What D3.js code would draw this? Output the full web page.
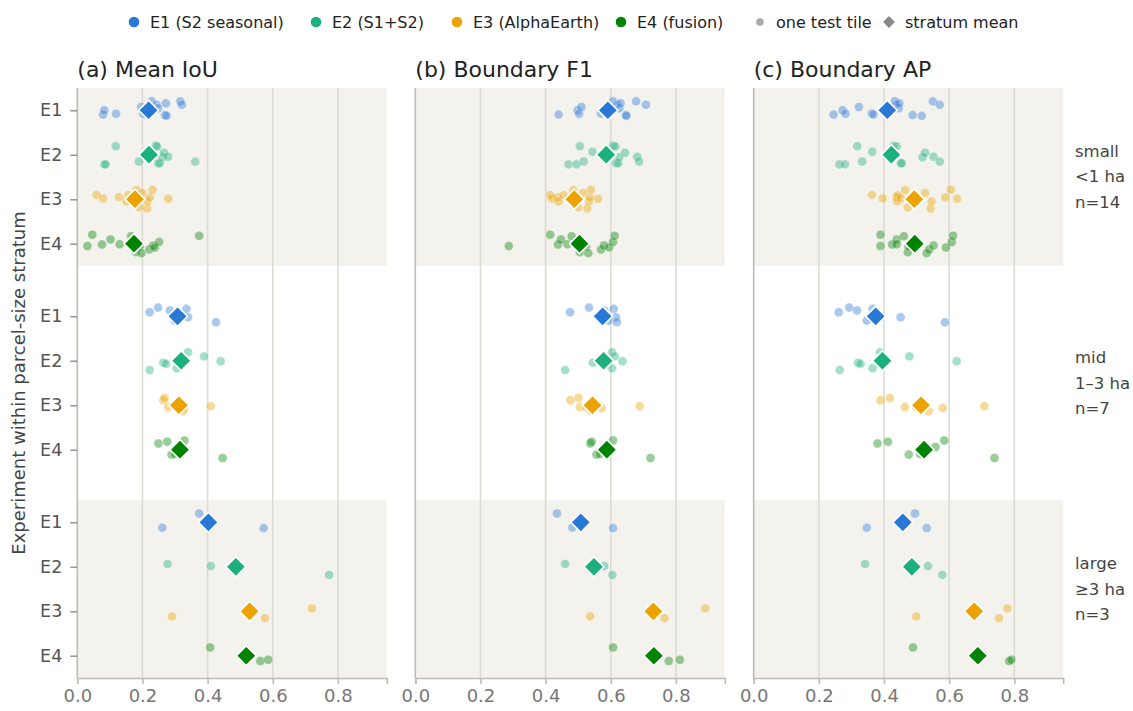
<!DOCTYPE html>
<html>
<head>
<meta charset="utf-8">
<script src="https://cdn.jsdelivr.net/npm/d3@7"></script>
<style>
  html, body { margin: 0; padding: 0; background: #ffffff; }
  svg { display: block; font-family: "DejaVu Sans", sans-serif; }
</style>
</head>
<body>
<svg id="chart" width="1133" height="711"></svg>
<script>
// Experiments, strata and panels
const experiments = ["E1", "E2", "E3", "E4"];
const experimentLabels = ["E1 (S2 seasonal)", "E2 (S1+S2)", "E3 (AlphaEarth)", "E4 (fusion)"];
const experimentColors = ["#2a78d6", "#1cb07f", "#eca200", "#008300"];
const strata = ["small", "mid", "large"];
const strataLabels = [["small", "<1 ha", "n=14"], ["mid", "1\u20133 ha", "n=7"], ["large", "\u22653 ha", "n=3"]];
const panelTitles = ["(a) Mean IoU", "(b) Boundary F1", "(c) Boundary AP"];
const xTicks = [0, 0.2, 0.4, 0.6, 0.8];

// Per-tile scores, one row per experiment (E1..E4)
const iouSmall = [
  [0.079, 0.083, 0.119, 0.196, 0.202, 0.213, 0.228, 0.243, 0.248, 0.272, 0.269, 0.274, 0.316, 0.321],
  [0.083, 0.087, 0.118, 0.189, 0.215, 0.232, 0.241, 0.245, 0.248, 0.253, 0.262, 0.266, 0.279, 0.362],
  [0.059, 0.079, 0.128, 0.151, 0.156, 0.170, 0.182, 0.190, 0.200, 0.215, 0.215, 0.223, 0.231, 0.279],
  [0.031, 0.046, 0.076, 0.102, 0.130, 0.165, 0.180, 0.192, 0.197, 0.221, 0.233, 0.238, 0.251, 0.374]
];
const iouMid = [
  [0.222, 0.248, 0.284, 0.299, 0.335, 0.340, 0.426],
  [0.222, 0.264, 0.273, 0.305, 0.340, 0.389, 0.440],
  [0.264, 0.268, 0.279, 0.310, 0.325, 0.327, 0.410],
  [0.249, 0.276, 0.289, 0.300, 0.316, 0.329, 0.446]
];
const iouLarge = [
  [0.261, 0.374, 0.572],
  [0.277, 0.410, 0.773],
  [0.291, 0.576, 0.720],
  [0.408, 0.562, 0.586]
];
const f1Small = [
  [0.440, 0.498, 0.503, 0.510, 0.570, 0.590, 0.607, 0.620, 0.626, 0.630, 0.646, 0.648, 0.678, 0.708],
  [0.470, 0.495, 0.505, 0.517, 0.544, 0.575, 0.607, 0.614, 0.616, 0.623, 0.626, 0.644, 0.681, 0.687],
  [0.414, 0.419, 0.437, 0.440, 0.455, 0.470, 0.485, 0.500, 0.515, 0.528, 0.533, 0.536, 0.539, 0.561],
  [0.287, 0.414, 0.438, 0.447, 0.467, 0.480, 0.505, 0.524, 0.531, 0.570, 0.579, 0.595, 0.607, 0.612]
];
const f1Mid = [
  [0.475, 0.533, 0.580, 0.593, 0.609, 0.616, 0.619],
  [0.460, 0.545, 0.585, 0.604, 0.604, 0.612, 0.636],
  [0.476, 0.501, 0.505, 0.525, 0.540, 0.572, 0.689],
  [0.537, 0.541, 0.556, 0.567, 0.586, 0.607, 0.722]
];
const f1Large = [
  [0.482, 0.435, 0.607],
  [0.460, 0.580, 0.605],
  [0.537, 0.765, 0.890],
  [0.607, 0.778, 0.812]
];
const apSmall = [
  [0.245, 0.273, 0.282, 0.323, 0.362, 0.368, 0.433, 0.437, 0.445, 0.447, 0.488, 0.516, 0.550, 0.571],
  [0.263, 0.280, 0.318, 0.333, 0.364, 0.415, 0.430, 0.439, 0.452, 0.454, 0.518, 0.526, 0.552, 0.571],
  [0.363, 0.396, 0.439, 0.440, 0.442, 0.452, 0.465, 0.473, 0.526, 0.543, 0.546, 0.588, 0.605, 0.624],
  [0.389, 0.389, 0.425, 0.439, 0.439, 0.461, 0.473, 0.475, 0.531, 0.539, 0.552, 0.590, 0.608, 0.612]
];
const apMid = [
  [0.261, 0.293, 0.317, 0.347, 0.365, 0.451, 0.587],
  [0.264, 0.320, 0.328, 0.365, 0.388, 0.478, 0.623],
  [0.389, 0.418, 0.464, 0.499, 0.537, 0.580, 0.708],
  [0.380, 0.412, 0.476, 0.511, 0.558, 0.585, 0.739]
];
const apLarge = [
  [0.347, 0.495, 0.531],
  [0.342, 0.535, 0.579],
  [0.499, 0.753, 0.779],
  [0.489, 0.784, 0.791]
];

const panelData = [
  [iouSmall, iouMid, iouLarge],
  [f1Small, f1Mid, f1Large],
  [apSmall, apMid, apLarge]
];

// Layout
const svg = d3.select("#chart");
const plotTop = 88, plotBottom = 678;
const panelLeft = [77.3, 415.3, 753.7];
const panelWidth = 309.5;
const strataGap = 0.63;              // extra space between strata, in row units
const rowsPerStratum = experiments.length;
const rowPos = (s, e) => s * (rowsPerStratum + strataGap) + e;
const yMax = rowPos(strata.length - 1, rowsPerStratum - 1) + 0.5;

const y = d3.scaleLinear().domain([-0.5, yMax]).range([plotTop, plotBottom]);

const axisGray = "#bdbcb5";
const gridGray = "#dcdbd4";
const bandFill = "#f3f2ed";

// Vertical jitter for individual tiles (same tile -> same offset in every panel)
function hash01(n) {
  let t = (n + 0x6D2B79F5) | 0;
  t = Math.imul(t ^ (t >>> 15), t | 1);
  t ^= t + Math.imul(t ^ (t >>> 7), t | 61);
  return ((t ^ (t >>> 14)) >>> 0) / 4294967296;
}
function jitterFor(s, e, t) {
  return (hash01(s * 1009 + e * 101 + t * 7 + 3) - 0.5) * 0.44;
}

panelData.forEach((metric, p) => {
  const x = d3.scaleLinear().domain([0, 0.95]).range([panelLeft[p], panelLeft[p] + panelWidth]);
  const g = svg.append("g");

  // shaded strata bands (small and large)
  g.selectAll("rect.band")
    .data(strata.map((s, i) => i).filter(i => i % 2 === 0))
    .join("rect")
    .attr("x", x(0))
    .attr("width", x(0.95) - x(0))
    .attr("y", i => y(rowPos(i, 0) - 0.5))
    .attr("height", i => y(rowPos(i, rowsPerStratum - 1) + 0.5) - y(rowPos(i, 0) - 0.5))
    .attr("fill", bandFill);

  // vertical grid lines
  g.selectAll("line.grid")
    .data(xTicks.filter(d => d > 0))
    .join("line")
    .attr("x1", d => x(d)).attr("x2", d => x(d))
    .attr("y1", plotTop).attr("y2", plotBottom)
    .attr("stroke", gridGray).attr("stroke-width", 1.6);

  // x axis
  const xAxis = g.append("g")
    .attr("transform", `translate(0,${plotBottom})`)
    .call(d3.axisBottom(x).tickValues(xTicks).tickFormat(d3.format(".1f")).tickSize(6).tickPadding(5));
  xAxis.select(".domain").attr("stroke", axisGray).attr("stroke-width", 1.6);
  xAxis.selectAll(".tick line").attr("stroke", axisGray).attr("stroke-width", 1.6);
  xAxis.selectAll(".tick text").attr("fill", "#777").style("font-size", "18px").style("font-family", "DejaVu Sans");

  // left spine and y ticks
  const rows = [];
  strata.forEach((s, si) => experiments.forEach((e, ei) => rows.push({ pos: rowPos(si, ei), label: e })));
  const yAxis = g.append("g")
    .attr("transform", `translate(${x(0)},0)`)
    .call(d3.axisLeft(y).tickValues(rows.map(r => r.pos))
      .tickFormat((d, i) => rows[i].label).tickSize(p === 0 ? 7 : 0).tickPadding(8));
  yAxis.select(".domain").attr("d", `M0,${plotTop}V${plotBottom}`).attr("stroke", axisGray).attr("stroke-width", 1.6);
  yAxis.selectAll(".tick line").attr("stroke", "#999").attr("stroke-width", 1.6);
  yAxis.selectAll(".tick text")
    .attr("fill", "#555").style("font-size", "17.5px").style("font-family", "DejaVu Sans")
    .style("display", p === 0 ? null : "none");

  // panel title
  svg.append("text")
    .attr("x", x(0)).attr("y", 77)
    .attr("fill", "#222").style("font-size", "22px")
    .text(panelTitles[p]);

  // individual tiles
  const dots = [];
  const means = [];
  metric.forEach((stratumRows, si) => {
    stratumRows.forEach((vals, ei) => {
      vals.forEach((v, t) => dots.push({ v, si, ei, t }));
      means.push({ v: d3.mean(vals), si, ei });
    });
  });

  g.selectAll("circle.tile")
    .data(dots)
    .join("circle")
    .attr("cx", d => x(d.v))
    .attr("cy", d => y(rowPos(d.si, d.ei) + jitterFor(d.si, d.ei, d.t)))
    .attr("r", 4.5)
    .attr("fill", d => experimentColors[d.ei])
    .attr("fill-opacity", 0.4)
    .attr("stroke", "#ffffff")
    .attr("stroke-opacity", 0.5)
    .attr("stroke-width", 0.6);

  // stratum means
  const diamond = d3.symbol().type(d3.symbolSquare).size(200);
  g.selectAll("path.mean")
    .data(means)
    .join("path")
    .attr("d", diamond)
    .attr("transform", d => `translate(${x(d.v)},${y(rowPos(d.si, d.ei))}) rotate(45)`)
    .attr("fill", d => experimentColors[d.ei])
    .attr("stroke", "#ffffff")
    .attr("stroke-width", 1.6);
});

// stratum labels on the right
strataLabels.forEach((lines, si) => {
  const mid = y(rowPos(si, 0) + (rowsPerStratum - 1) / 2);
  lines.forEach((line, li) => {
    svg.append("text")
      .attr("x", 1075)
      .attr("y", mid + (li - 1) * 25.5 + 5.5)
      .attr("fill", "#444").style("font-size", "16.5px")
      .text(line);
  });
});

// y axis title
svg.append("text")
  .attr("transform", `translate(25,${(plotTop + plotBottom) / 2}) rotate(-90)`)
  .attr("text-anchor", "middle")
  .attr("fill", "#444").style("font-size", "18px")
  .text("Experiment within parcel-size stratum");

// legend
const legendItems = experimentLabels.map((label, i) => ({ label, color: experimentColors[i], kind: "dot" }))
  .concat([{ label: "one test tile", color: "#aaaaaa", kind: "small" }, { label: "stratum mean", color: "#888888", kind: "diamond" }]);
const legendX = [134, 316, 457, 621, 760, 889];
const legend = svg.append("g");
legendItems.forEach((item, i) => {
  const gx = legendX[i], gy = 22;
  if (item.kind === "diamond") {
    legend.append("path")
      .attr("d", d3.symbol().type(d3.symbolSquare).size(70)())
      .attr("transform", `translate(${gx},${gy}) rotate(45)`)
      .attr("fill", item.color);
  } else {
    legend.append("circle")
      .attr("cx", gx).attr("cy", gy)
      .attr("r", item.kind === "small" ? 3.8 : 5.3)
      .attr("fill", item.color);
  }
  legend.append("text")
    .attr("x", gx + 16).attr("y", gy + 5.5)
    .attr("fill", "#222").style("font-size", "16px")
    .text(item.label);
});
</script>
</body>
</html>
